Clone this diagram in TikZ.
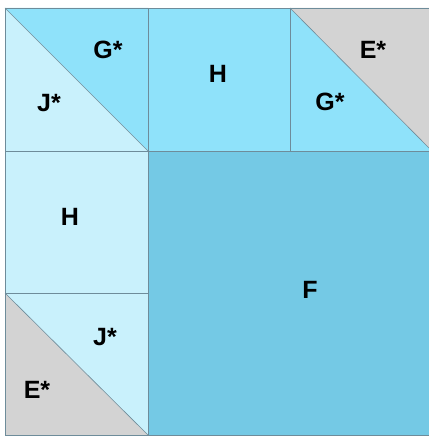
\documentclass[tikz,border=0pt]{standalone}
\usepackage{fontspec}
\setmainfont{Liberation Sans}
\begin{document}
\begin{tikzpicture}[x=1pt,y=-1pt,
  edge/.style={draw=linec, line width=0.6pt},
  lbl/.style={font=\fontsize{25}{28}\selectfont\bfseries, text=black, inner sep=0pt}]
\definecolor{linec}{HTML}{6E8C9A}
\definecolor{midb}{HTML}{8FE2FA}
\definecolor{lightb}{HTML}{C9F1FC}
\definecolor{darkb}{HTML}{74C9E5}
\definecolor{grayc}{HTML}{D3D3D3}
\useasboundingbox (0,0) rectangle (428,436);
\fill[white] (0,0) rectangle (428,436);
% coordinates
\coordinate (A) at (5,8);
\coordinate (B) at (148,8);
\coordinate (C) at (290,8);
\coordinate (D) at (432,8);
\coordinate (P) at (5,151);
\coordinate (Q) at (148,151);
\coordinate (R) at (290,151);
\coordinate (S) at (432,151);
\coordinate (T) at (5,293);
\coordinate (U) at (148,293);
\coordinate (V) at (5,435);
\coordinate (W) at (148,435);
\coordinate (X) at (432,435);
% fills
\fill[midb] (A) -- (B) -- (Q) -- cycle;
\fill[lightb] (A) -- (Q) -- (P) -- cycle;
\fill[midb] (B) rectangle (R);
\fill[midb] (C) -- (S) -- (R) -- cycle;
\fill[grayc] (C) -- (D) -- (S) -- cycle;
\fill[lightb] (P) rectangle (U);
\fill[lightb] (T) -- (U) -- (W) -- cycle;
\fill[grayc] (T) -- (W) -- (V) -- cycle;
\fill[darkb] (Q) rectangle (X);
% lines
\draw[edge] (A) rectangle (X);
\draw[edge] (B) -- (W);
\draw[edge] (C) -- (R);
\draw[edge] (P) -- (S);
\draw[edge] (T) -- (U);
\draw[edge] (A) -- (Q);
\draw[edge] (C) -- (S);
\draw[edge] (T) -- (W);
% labels
\node[lbl] (g1) at (108,50) {G*};
\node[lbl] (j1) at (49,103) {J*};
\node[lbl] (h1) at (218,74) {H};
\node[lbl] (e1) at (373,50) {E*};
\node[lbl] (g2) at (330,102) {G*};
\node[lbl] (h2) at (70,217) {H};
\node[lbl] (f) at (310,290) {F};
\node[lbl] (j2) at (105,337) {J*};
\node[lbl] (e2) at (37,390) {E*};
\end{tikzpicture}
\end{document}
